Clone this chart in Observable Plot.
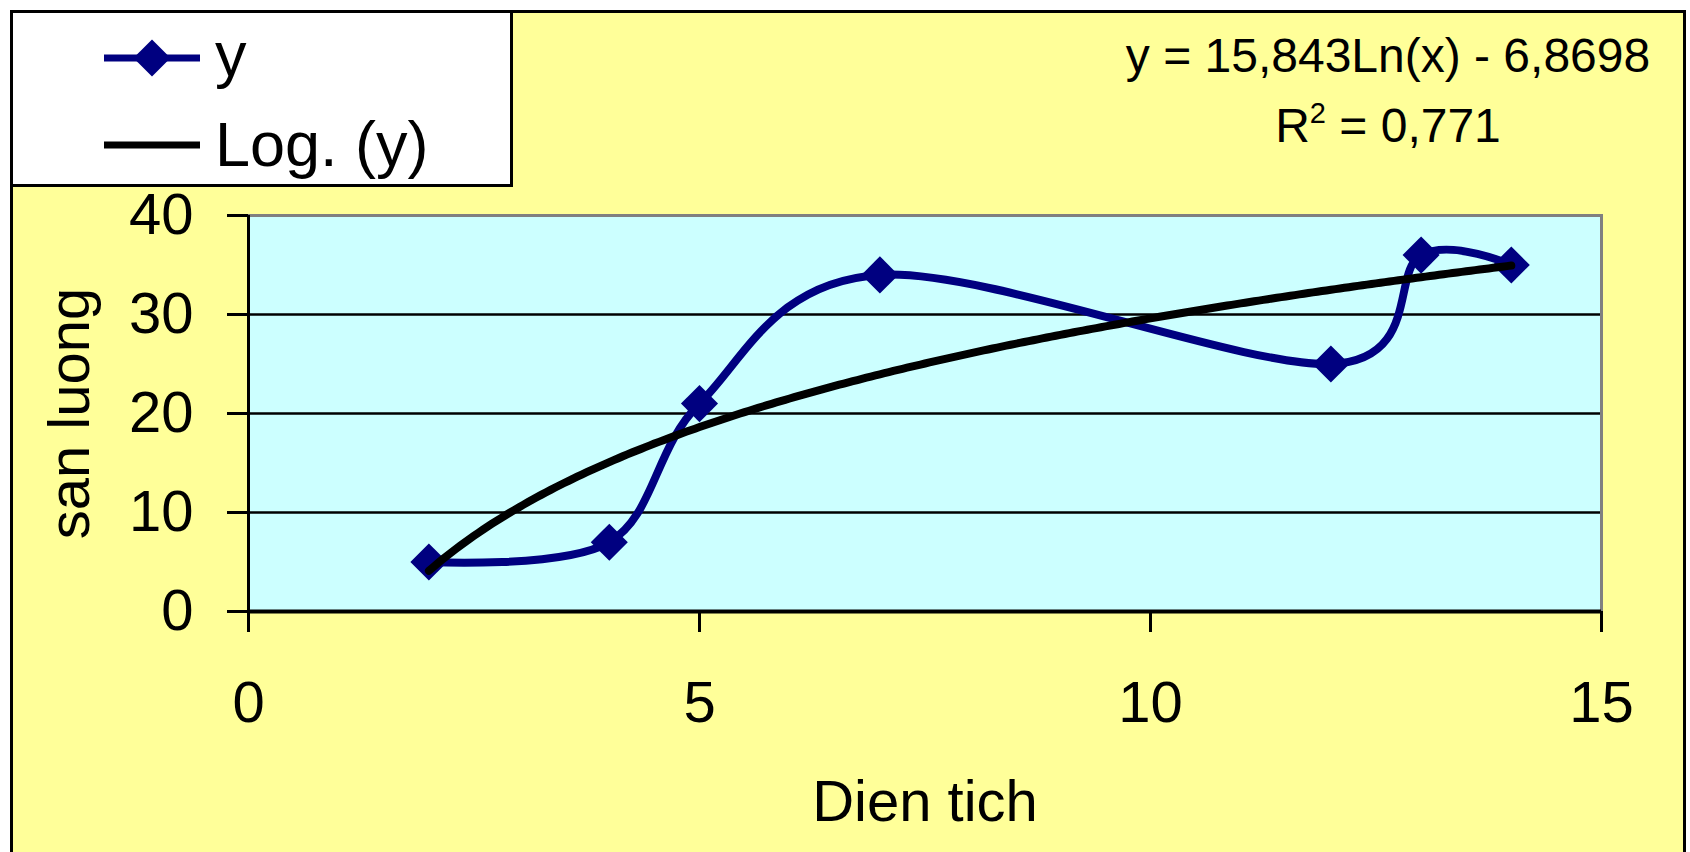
<!DOCTYPE html>
<html>
<head>
<meta charset="utf-8">
<script src="https://cdn.jsdelivr.net/npm/d3@7"></script>
<script src="https://cdn.jsdelivr.net/npm/@observablehq/plot@0.6"></script>
<style>
  html, body { margin: 0; padding: 0; background: #ffffff; }
  #chart { position: relative; width: 1690px; height: 852px; overflow: hidden;
           font-family: "Liberation Sans", Arial, sans-serif; }
  #area { position: absolute; left: 10px; top: 10px; width: 1676px; height: 900px;
          background: #FFFF99; border: 3px solid #000; box-sizing: border-box; }
  #chart svg { position: absolute; left: 0; top: 0; }
</style>
</head>
<body>
<div id="chart"><div id="area"></div></div>
<script>
// Observed pairs: area (Dien tich) and output (san luong)
const dienTich = [2, 4, 5, 7, 12, 13, 14];
const sanLuong = [5, 7, 21, 34, 25, 36, 35];

// Axis ticks
const xTicks = [0, 5, 10, 15];
const yTicks = [0, 10, 20, 30, 40];
const gridLines = [10, 20, 30];

// Logarithmic trendline coefficients and fit quality
const trendSlope = 15.843;
const trendIntercept = -6.8698;
const rSquared = 0.771;

const seriesColor = "#000080";
const fontSize = 58;

const points = dienTich.map((x, i) => ({x, y: sanLuong[i]}));

// Trendline y = a·ln(x) + b evaluated across the observed range of x
const xMin = d3.min(dienTich), xMax = d3.max(dienTich);
const trend = d3.range(xMin, xMax + 1e-9, 0.05).map(x => ({x, y: trendSlope * Math.log(x) + trendIntercept}));

const comma = v => String(v).replace(".", ",");

const plot = Plot.plot({
  width: 1690,
  height: 852,
  marginLeft: 248,
  marginRight: 89,
  marginTop: 215,
  marginBottom: 241,
  style: {background: "transparent", fontFamily: "Liberation Sans, Arial, sans-serif", color: "#000"},
  x: {domain: [0, 15]},
  y: {domain: [0, 40]},
  marks: [
    Plot.frame({fill: "#CCFFFF"}),
    Plot.ruleY(gridLines, {stroke: "#000", strokeWidth: 2.5}),
    Plot.frame({stroke: "#808080", strokeWidth: 3}),
    Plot.ruleX([0], {stroke: "#000", strokeWidth: 3}),
    Plot.ruleY([0], {stroke: "#000", strokeWidth: 4}),
    Plot.axisY({ticks: yTicks, tickSize: 21, tickPadding: 34, fontSize, strokeWidth: 3, label: null}),
    Plot.axisX({ticks: xTicks, tickSize: 21, tickPadding: 48, fontSize, strokeWidth: 3, label: null}),
    Plot.text(["Dien tich"], {frameAnchor: "bottom", lineAnchor: "bottom", dy: 209, fontSize, fill: "#000"}),
    Plot.text(["san luong"], {frameAnchor: "left", textAnchor: "middle", lineAnchor: "bottom", rotate: -90, dx: -160, fontSize, fill: "#000"}),
    Plot.line(points, {x: "x", y: "y", curve: "cardinal", tension: 0, stroke: seriesColor, strokeWidth: 8}),
    Plot.dot(points, {x: "x", y: "y", symbol: "diamond2", r: 16.7, fill: seriesColor, stroke: "none"}),
    Plot.line(trend, {x: "x", y: "y", stroke: "#000", strokeWidth: 8})
  ]
});
document.getElementById("chart").appendChild(plot);

// Legend box and trendline equation
const overlay = d3.select("#chart").append("svg")
  .attr("width", 1690).attr("height", 852)
  .style("pointer-events", "none")
  .style("font-family", "Liberation Sans, Arial, sans-serif");

const legendFont = 63;
const legend = overlay.append("g");
legend.append("rect").attr("x", 11.5).attr("y", 11.5).attr("width", 500).attr("height", 174)
  .attr("fill", "#fff").attr("stroke", "#000").attr("stroke-width", 3);
legend.append("line").attr("x1", 104).attr("x2", 200).attr("y1", 58).attr("y2", 58)
  .attr("stroke", seriesColor).attr("stroke-width", 7);
legend.append("path").attr("transform", "translate(152,58)")
  .attr("d", d3.symbol(d3.symbolDiamond2, 16.7 * 16.7 * Math.PI)())
  .attr("fill", seriesColor);
legend.append("line").attr("x1", 104).attr("x2", 200).attr("y1", 145).attr("y2", 145)
  .attr("stroke", "#000").attr("stroke-width", 7);
legend.append("text").attr("x", 215).attr("y", 76).attr("font-size", legendFont).text("y");
legend.append("text").attr("x", 215).attr("y", 166).attr("font-size", legendFont).text("Log. (y)");

const eq = overlay.append("g").attr("font-size", 48).attr("text-anchor", "middle");
eq.append("text").attr("x", 1388).attr("y", 72)
  .text(`y = ${comma(trendSlope)}Ln(x) - ${comma(-trendIntercept)}`);
const r2 = eq.append("text").attr("x", 1388).attr("y", 142);
r2.append("tspan").text("R");
r2.append("tspan").attr("font-size", 29).attr("dy", -19).text("2");
r2.append("tspan").attr("dy", 19).text(` = ${comma(rSquared)}`);
</script>
</body>
</html>
